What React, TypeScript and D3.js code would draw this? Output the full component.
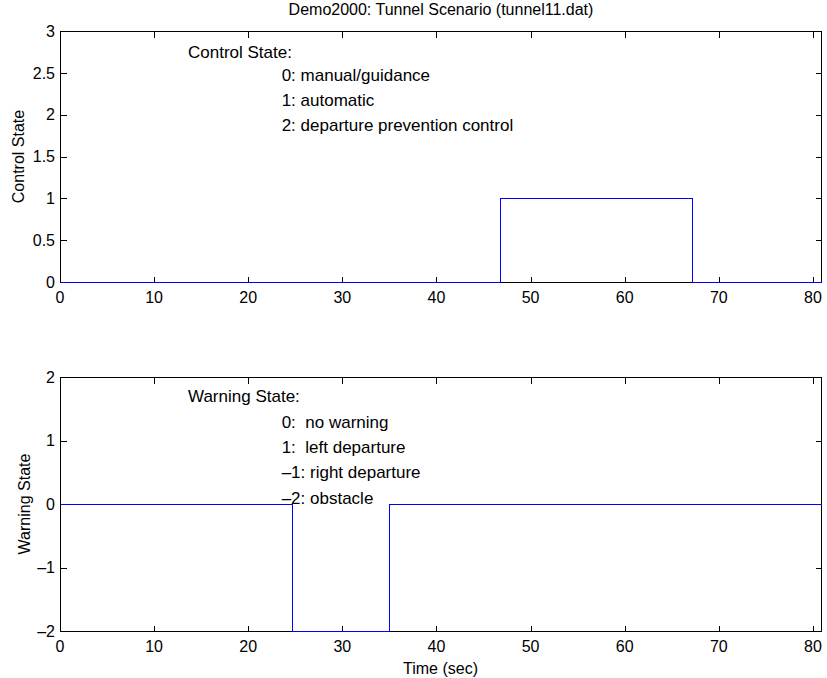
import React from "react";
import * as d3 from "d3";

const titleText = "Demo2000: Tunnel Scenario (tunnel11.dat)";
const xLabel = "Time (sec)";
const xTicks = [0, 10, 20, 30, 40, 50, 60, 70, 80];
const xDomain = [0, 80.85];

// Control state step data (time, value) – value holds until next time
const controlTimes = [0, 46.7, 67.1, 80.85];
const controlValues = [0, 1, 0, 0];
const controlTicks = [0, 0.5, 1, 1.5, 2, 2.5, 3];
const controlTickLabels = ["0", "0.5", "1", "1.5", "2", "2.5", "3"];

// Warning state step data
const warningTimes = [0, 24.7, 35.0, 80.85];
const warningValues = [0, -2, 0, 0];
const warningTicks = [-2, -1, 0, 1, 2];
const warningTickLabels = ["\u20132", "\u20131", "0", "1", "2"];

const controlNotes = [
  { x: 13.6, y: 2.75, text: "Control State:" },
  { x: 23.55, y: 2.47, text: "0: manual/guidance" },
  { x: 23.55, y: 2.18, text: "1: automatic" },
  { x: 23.55, y: 1.88, text: "2: departure prevention control" },
];
const warningNotes = [
  { x: 13.6, y: 1.7, text: "Warning State:" },
  { x: 23.55, y: 1.3, text: "0:  no warning" },
  { x: 23.55, y: 0.9, text: "1:  left departure" },
  { x: 23.55, y: 0.5, text: "\u20131: right departure" },
  { x: 23.55, y: 0.1, text: "\u20132: obstacle" },
];

const W = 827;
const H = 678;
const FONT = "'Liberation Sans', Arial, Helvetica, sans-serif";
const FS = 16;
const FS_NOTE = 17;

type PanelProps = {
  top: number;
  bottom: number;
  yDomain: [number, number];
  yTicks: number[];
  yTickLabels: string[];
  times: number[];
  values: number[];
  notes: { x: number; y: number; text: string }[];
  yLabel: string;
  yLabelX: number;
  showXLabel?: boolean;
};

const left = 60;
const right = 821;

function Panel(p: PanelProps) {
  const x = d3.scaleLinear().domain(xDomain).range([left, right]);
  const y = d3.scaleLinear().domain(p.yDomain).range([p.bottom, p.top]);
  const pts: [number, number][] = p.times.map((t, i) => [t, p.values[i]]);
  const line = d3
    .line<[number, number]>()
    .x((d) => Math.round(x(d[0])) + 0.5)
    .y((d) => Math.round(y(d[1])) + 0.5)
    .curve(d3.curveStepAfter);
  const L = left + 0.5;
  const R = right + 0.5;
  const T = p.top + 0.5;
  const B = p.bottom + 0.5;
  const tl = 6;
  return (
    <g>
      <g stroke="#000" strokeWidth={1} shapeRendering="crispEdges">
        {xTicks.map((t) => {
          const xx = Math.round(x(t)) + 0.5;
          return (
            <g key={"xt" + t}>
              <line x1={xx} x2={xx} y1={B} y2={B - tl} />
              <line x1={xx} x2={xx} y1={T} y2={T + tl} />
            </g>
          );
        })}
        {p.yTicks.map((t) => {
          const yy = Math.round(y(t)) + 0.5;
          return (
            <g key={"yt" + t}>
              <line x1={L} x2={L + tl} y1={yy} y2={yy} />
              <line x1={R} x2={R - tl} y1={yy} y2={yy} />
            </g>
          );
        })}
        <rect x={L} y={T} width={R - L} height={B - T} fill="none" />
      </g>
      <path
        d={line(pts) || ""}
        fill="none"
        stroke="#0000ff"
        strokeWidth={1}
        shapeRendering="crispEdges"
      />
      <g fontFamily={FONT} fontSize={FS} fill="#000">
        {xTicks.map((t) => (
          <text key={"xl" + t} x={x(t)} y={p.bottom + 21} textAnchor="middle">
            {String(t)}
          </text>
        ))}
        {p.yTicks.map((t, i) => (
          <text key={"yl" + t} x={left - 5} y={y(t)} dy="0.36em" textAnchor="end">
            {p.yTickLabels[i]}
          </text>
        ))}
        {p.notes.map((n, i) => (
          <text
            key={"n" + i}
            x={x(n.x)}
            y={y(n.y)}
            dy="0.36em"
            fontSize={FS_NOTE}
            style={{ whiteSpace: "pre" }}
            xmlSpace="preserve"
          >
            {n.text}
          </text>
        ))}
        <text
          transform={`translate(${p.yLabelX},${(p.top + p.bottom) / 2}) rotate(-90)`}
          textAnchor="middle"
          dy="0.36em"
        >
          {p.yLabel}
        </text>
        {p.showXLabel && (
          <text x={(left + right) / 2} y={674} textAnchor="middle">
            {xLabel}
          </text>
        )}
      </g>
    </g>
  );
}

export default function App() {
  return (
    <svg
      width={W}
      height={H}
      style={{ position: "absolute", left: 0, top: 0, background: "#fff" }}
    >
      <rect x={0} y={0} width={W} height={H} fill="#fff" />
      <text
        x={441}
        y={15}
        textAnchor="middle"
        fontFamily={FONT}
        fontSize={FS}
        fill="#000"
      >
        {titleText}
      </text>
      <Panel
        top={31}
        bottom={282}
        yDomain={[0, 3]}
        yTicks={controlTicks}
        yTickLabels={controlTickLabels}
        times={controlTimes}
        values={controlValues}
        notes={controlNotes}
        yLabel="Control State"
        yLabelX={18}
      />
      <Panel
        top={377}
        bottom={631}
        yDomain={[-2, 2]}
        yTicks={warningTicks}
        yTickLabels={warningTickLabels}
        times={warningTimes}
        values={warningValues}
        notes={warningNotes}
        yLabel="Warning State"
        yLabelX={24}
        showXLabel
      />
    </svg>
  );
}
